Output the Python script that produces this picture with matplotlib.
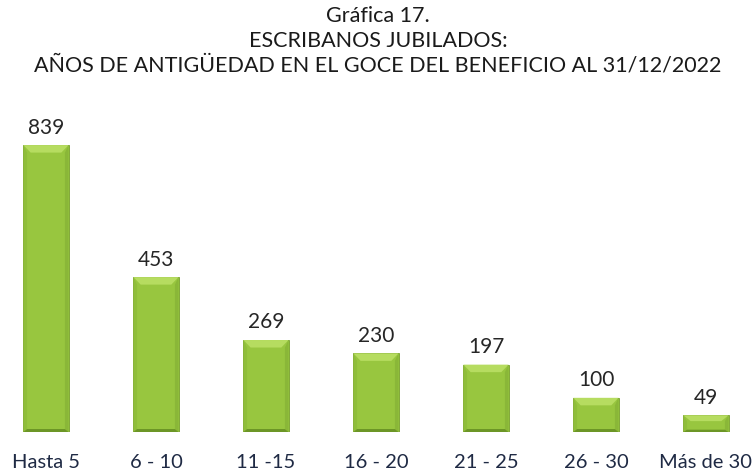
import matplotlib.pyplot as plt
from matplotlib.patches import Polygon
import numpy as np

plt.rcParams['font.family'] = ['Lato', 'DejaVu Sans']

categories = ['Hasta 5', '6 - 10', '11 -15', '16 - 20', '21 - 25', '26 - 30', 'Más de 30']
values = [839, 453, 269, 230, 197, 100, 49]

title_lines = ['Gráfica 17.', 'ESCRIBANOS JUBILADOS:',
               'AÑOS DE ANTIGÜEDAD EN EL GOCE DEL BENEFICIO AL 31/12/2022']

BAR_COLOR = '#98c63f'
EDGE_COLOR = '#759f2a'
TOP_COLOR = '#b6dc60'


def main():
    fig = plt.figure(figsize=(7.56, 4.75), dpi=100)
    ax = fig.add_axes([0, 0.0905, 1, 0.72])
    x = np.arange(len(values))
    width = 0.41
    bars = ax.bar(x, values, width=width, color=BAR_COLOR, edgecolor=EDGE_COLOR, lw=0.6, zorder=2)

    # bevel on each bar, built from the bar geometry
    bev_w = width * 0.16
    bev_h = 22.0
    for b in bars:
        x0 = b.get_x()
        x1 = x0 + b.get_width()
        h = b.get_height()
        bh = min(bev_h, h * 0.35)
        right = Polygon([[x1, h], [x1, 0], [x1 - bev_w * 0.5, bh * 0.4], [x1 - bev_w * 0.5, h - bh]],
                        closed=True, fc='#8ab738', ec='none', zorder=3)
        ax.add_patch(right)
        left = Polygon([[x0, h], [x0, 0], [x0 + bev_w * 0.5, bh * 0.4], [x0 + bev_w * 0.5, h - bh]],
                       closed=True, fc='#8fbd3a', ec='none', zorder=3)
        ax.add_patch(left)
        bot = Polygon([[x0, 0], [x1, 0], [x1 - bev_w * 0.5, bh * 0.4], [x0 + bev_w * 0.5, bh * 0.4]],
                      closed=True, fc='#6c9626', ec='none', zorder=3)
        ax.add_patch(bot)
        top = Polygon([[x0, h], [x1, h], [x1 - bev_w, h - bh], [x0 + bev_w, h - bh]],
                      closed=True, fc=TOP_COLOR, ec='none', zorder=4)
        ax.add_patch(top)
        ax.text(b.get_x() + b.get_width() / 2, h + 22, str(int(h)), ha='center', va='bottom',
                fontsize=15, color='#262626')

    ax.set_xlim(-0.418, 6.455)
    ax.set_ylim(0, 1000)
    ax.set_xticks(x)
    ax.set_xticklabels(categories, fontsize=14.5, color='#1f2a44')
    ax.tick_params(axis='x', length=0, pad=16)
    ax.set_yticks([])
    for s in ax.spines.values():
        s.set_visible(False)

    ys = [0.966, 0.913, 0.862]
    for t, yy in zip(title_lines, ys):
        fig.text(0.5, yy, t, ha='center', va='center', fontsize=15.5, color='#1a1a1a')

    fig.savefig('out.png', dpi=100)


if __name__ == '__main__':
    main()
